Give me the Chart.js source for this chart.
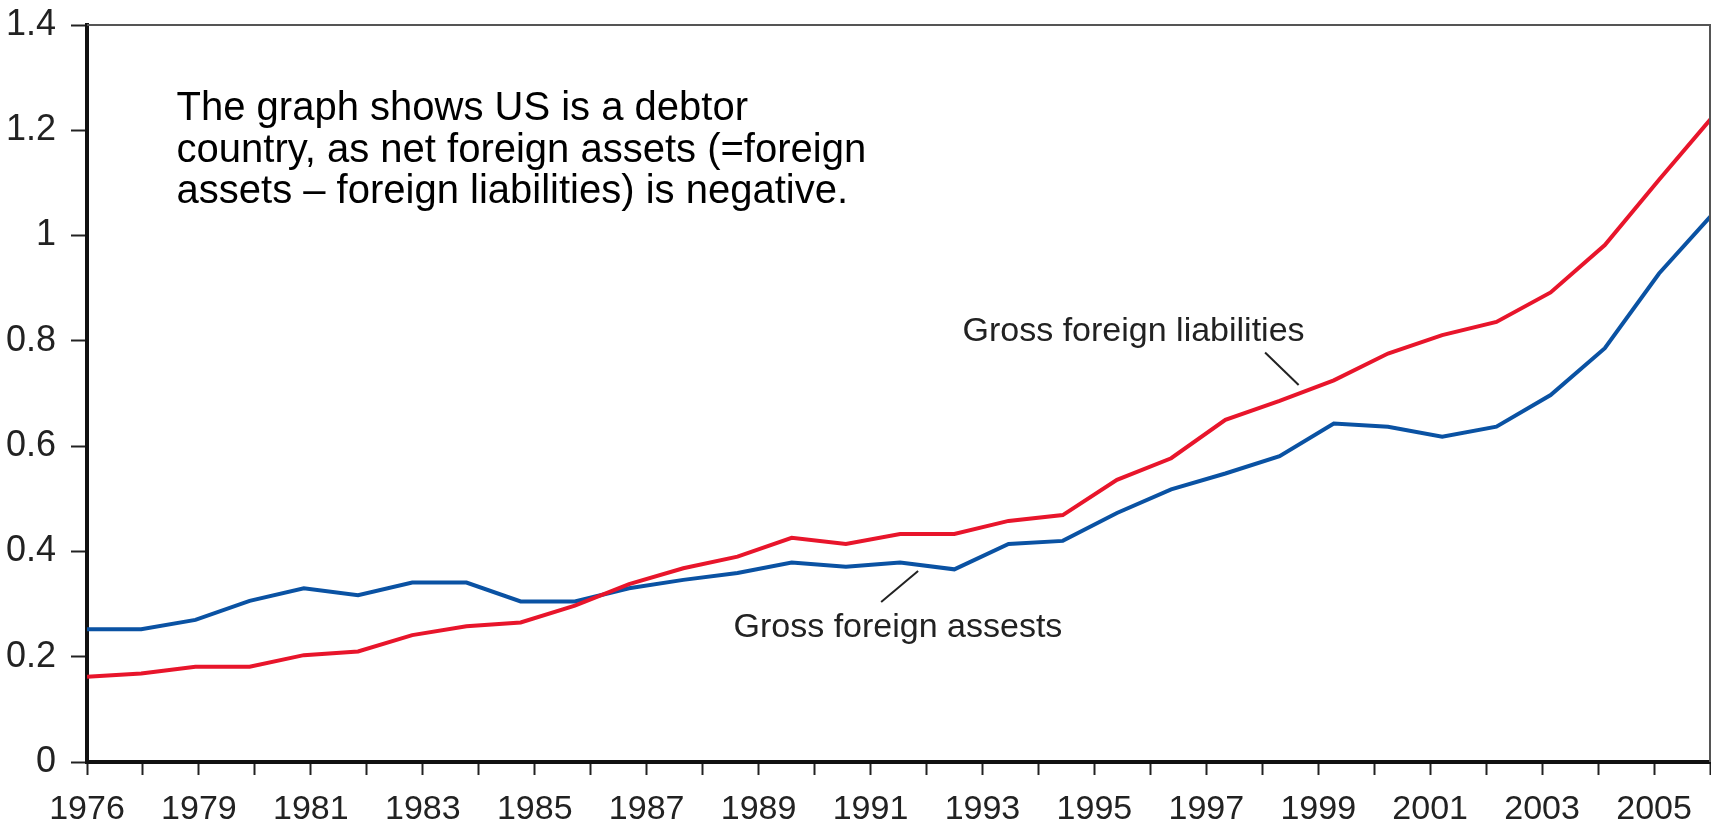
<!DOCTYPE html>
<html>
<head>
<meta charset="utf-8">
<script src="https://cdn.jsdelivr.net/npm/chart.js@4.4.0/dist/chart.umd.min.js"></script>
<style>
  html, body { margin: 0; padding: 0; background: #fff; }
  #wrap { width: 1711px; height: 825px; }
</style>
</head>
<body>
<div id="wrap"><canvas id="chart"></canvas></div>
<script>
// tick labels printed under every other tick mark
const tickLabels = ['1976', '1979', '1981', '1983', '1985', '1987', '1989', '1991',
  '1993', '1995', '1997', '1999', '2001', '2003', '2005'];

// one point per year
const years = [1976, 1977, 1978, 1979, 1980, 1981, 1982, 1983, 1984, 1985, 1986,
  1987, 1988, 1989, 1990, 1991, 1992, 1993, 1994, 1995, 1996, 1997, 1998, 1999,
  2000, 2001, 2002, 2003, 2004, 2005, 2006];

const grossAssets = [0.252, 0.252, 0.270, 0.306, 0.330, 0.317, 0.341, 0.341, 0.305, 0.305,
  0.330, 0.346, 0.359, 0.379, 0.371, 0.379, 0.366, 0.414, 0.420, 0.473,
  0.518, 0.548, 0.581, 0.643, 0.637, 0.618, 0.637, 0.697, 0.786, 0.928, 1.042];

const grossLiabilities = [0.162, 0.168, 0.181, 0.181, 0.203, 0.210, 0.241, 0.258, 0.265, 0.297,
  0.338, 0.368, 0.390, 0.426, 0.414, 0.433, 0.433, 0.458, 0.469, 0.536,
  0.577, 0.650, 0.686, 0.725, 0.776, 0.811, 0.836, 0.892, 0.982, 1.106, 1.227];

const noteLines = [
  'The graph shows US is a debtor',
  'country, as net foreign assets (=foreign',
  'assets \u2013 foreign liabilities) is negative.'
];

const FONT = '"Liberation Sans", Arial, Helvetica, sans-serif';

const toPoints = vals => vals.map((v, i) => ({ x: years[i], y: v }));

// labels + leader lines, placed in axis units of the visible x axis and y axis
const labelNotes = [
  { text: 'Gross foreign liabilities', x: 18.7, y: 0.818, line: [21.05, 0.778, 21.65, 0.716] },
  { text: 'Gross foreign assests', x: 14.49, y: 0.256, line: [14.19, 0.304, 14.85, 0.363] }
];

const annotate = {
  id: 'annotate',
  afterDraw(chart) {
    const { ctx, chartArea: a, scales } = chart;
    const sx = scales.x, sy = scales.y;
    ctx.save();
    // frame top and right
    ctx.strokeStyle = '#555';
    ctx.lineWidth = 2;
    ctx.beginPath();
    ctx.moveTo(a.left, a.top);
    ctx.lineTo(a.right, a.top);
    ctx.lineTo(a.right, a.bottom);
    ctx.stroke();

    ctx.fillStyle = '#222';
    ctx.font = '34px ' + FONT;
    ctx.textAlign = 'center';
    ctx.textBaseline = 'middle';
    labelNotes.forEach(n => {
      ctx.fillText(n.text, sx.getPixelForValue(n.x), sy.getPixelForValue(n.y));
      ctx.strokeStyle = '#222';
      ctx.lineWidth = 2;
      ctx.beginPath();
      ctx.moveTo(sx.getPixelForValue(n.line[0]), sy.getPixelForValue(n.line[1]));
      ctx.lineTo(sx.getPixelForValue(n.line[2]), sy.getPixelForValue(n.line[3]));
      ctx.stroke();
    });

    ctx.fillStyle = '#000';
    ctx.font = '40px ' + FONT;
    ctx.textAlign = 'left';
    const x0 = sx.getPixelForValue(1.6);
    const y0 = sy.getPixelForValue(1.24);
    noteLines.forEach((t, i) => ctx.fillText(t, x0, y0 + i * 41.5));
    ctx.restore();
  }
};

new Chart(document.getElementById('chart'), {
  type: 'line',
  data: {
    datasets: [
      {
        label: 'Gross foreign liabilities',
        data: toPoints(grossLiabilities),
        xAxisID: 'xd',
        borderColor: '#e8152b',
        borderWidth: 4,
        pointRadius: 0,
        tension: 0
      },
      {
        label: 'Gross foreign assests',
        data: toPoints(grossAssets),
        xAxisID: 'xd',
        borderColor: '#0a52a3',
        borderWidth: 4,
        pointRadius: 0,
        tension: 0
      }
    ]
  },
  options: {
    responsive: true,
    maintainAspectRatio: false,
    animation: false,
    layout: { padding: { top: 25, right: 1, left: 0, bottom: 0 } },
    plugins: {
      legend: { display: false },
      tooltip: { enabled: false }
    },
    scales: {
      xd: {
        type: 'linear',
        display: false,
        min: 1976,
        max: 1976 + 29.94
      },
      x: {
        type: 'linear',
        position: 'bottom',
        min: 0,
        max: 29,
        afterFit: s => { s.height = 63; s.paddingLeft = 0; s.paddingRight = 0; },
        border: { color: '#111', width: 4 },
        grid: { drawOnChartArea: false, tickLength: 13, tickWidth: 2, tickColor: '#222' },
        ticks: {
          stepSize: 1,
          autoSkip: false,
          maxRotation: 0,
          padding: 14,
          color: '#222',
          font: { family: FONT, size: 34 },
          callback: v => (v % 2 === 0 ? tickLabels[v / 2] : '')
        }
      },
      y: {
        type: 'linear',
        min: 0,
        max: 1.4,
        afterFit: s => { s.width = 87; s.paddingTop = 0; s.paddingBottom = 0; },
        border: { color: '#111', width: 4 },
        grid: { drawOnChartArea: false, tickLength: 16, tickWidth: 2, tickColor: '#222' },
        ticks: {
          stepSize: 0.2,
          padding: 15,
          color: '#222',
          font: { family: FONT, size: 36 },
          callback: v => String(Number(v.toFixed(1)))
        }
      }
    }
  },
  plugins: [annotate]
});
</script>
</body>
</html>
